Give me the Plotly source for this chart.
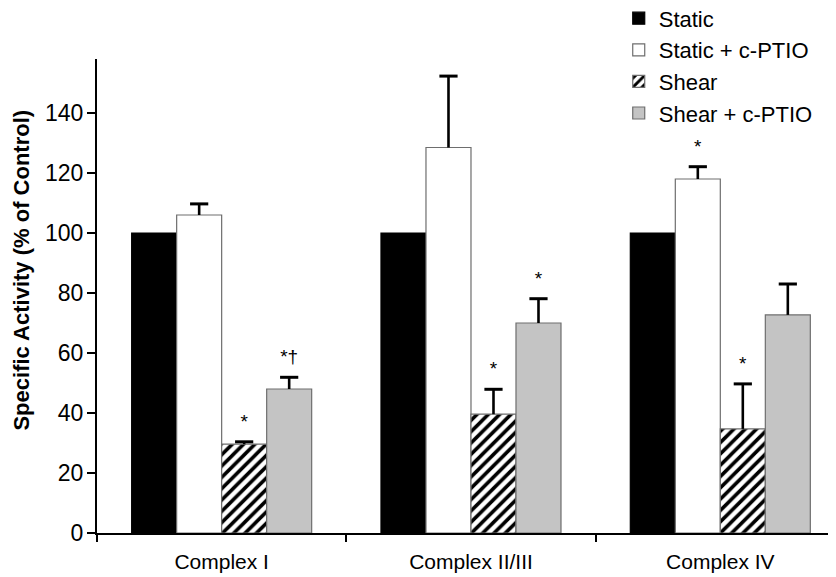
import plotly.graph_objects as go

categories = ["Complex I", "Complex II/III", "Complex IV"]
series_names = ["Static", "Static + c-PTIO", "Shear", "Shear + c-PTIO"]

static_vals = [100, 100, 100]
static_ptio_vals = [106, 128.5, 118]
shear_vals = [29.6, 39.6, 34.7]
shear_ptio_vals = [48, 70, 72.7]

static_err = [0, 0, 0]
static_ptio_err = [3.7, 23.8, 4.1]
shear_err = [0.8, 8.3, 15.0]
shear_ptio_err = [3.9, 8.1, 10.3]

static_marks = ["", "", ""]
static_ptio_marks = ["", "", "*"]
shear_marks = ["*", "*", "*"]
shear_ptio_marks = ["*†", "*", ""]

y_ticks = [0, 20, 40, 60, 80, 100, 120, 140]
y_title = "Specific Activity (% of Control)"

values = [static_vals, static_ptio_vals, shear_vals, shear_ptio_vals]
errors = [static_err, static_ptio_err, shear_err, shear_ptio_err]
marks = [static_marks, static_ptio_marks, shear_marks, shear_ptio_marks]

fills = ["#000000", "#ffffff", "#ffffff", "#c4c4c4"]
outlines = ["#000000", "#6e6e6e", "#6e6e6e", "#6e6e6e"]

fig = go.Figure()
for i, name in enumerate(series_names):
    marker = dict(color=fills[i], line=dict(color=outlines[i], width=1.2))
    if name == "Shear":
        marker["pattern"] = dict(shape="/", fgcolor="#000000", bgcolor="#ffffff",
                                 size=8, solidity=0.45, fgopacity=1)
    fig.add_trace(go.Bar(name=name, x=categories, y=values[i], marker=marker,
                         offsetgroup=str(i)))

for i, name in enumerate(series_names):
    xs, ys, es, ts = [], [], [], []
    for j, c in enumerate(categories):
        if errors[i][j] > 0:
            xs.append(c)
            ys.append(values[i][j] + errors[i][j])
            es.append(errors[i][j])
            ts.append(marks[i][j])
    if not xs:
        continue
    fig.add_trace(go.Scatter(
        x=xs, y=ys, mode="markers+text", text=ts, textposition="top center",
        textfont=dict(family="Liberation Sans, Arial", size=19, color="#000"),
        marker=dict(symbol="line-ew", size=13, color="#000",
                    line=dict(color="#000", width=3)),
        error_y=dict(type="data", array=[0] * len(es), arrayminus=es,
                     width=0, thickness=2.6, color="#000"),
        offsetgroup=str(i), showlegend=False, hoverinfo="skip", cliponaxis=False))

fig.add_annotation(text="<b>" + y_title + "</b>", textangle=-90,
                   xref="paper", yref="paper", x=-0.102, y=0.555,
                   xanchor="center", yanchor="middle", showarrow=False,
                   font=dict(size=22, color="#000"))

fig.update_layout(
    width=828, height=569,
    margin=dict(l=89, r=0, t=51, b=44, autoexpand=False),
    paper_bgcolor="white", plot_bgcolor="white",
    barmode="group", bargap=0.278, bargroupgap=0,
    scattermode="group", scattergap=0.278,
    font=dict(family="Liberation Sans, Arial", size=21, color="#000"),
    showlegend=True,
    legend=dict(x=0.706, y=1.13, xanchor="left", yanchor="top",
                font=dict(size=22), bgcolor="rgba(0,0,0,0)",
                itemwidth=30, tracegroupgap=0),
    xaxis=dict(type="category", range=[-0.5, 2.464], showline=True,
               linecolor="#000", linewidth=2, ticks="outside",
               tickson="boundaries", ticklen=7, tickcolor="#000", tickwidth=1.5,
               showgrid=False, tickfont=dict(size=21), ticklabelstandoff=9),
    yaxis=dict(range=[0, 158], tickvals=y_ticks, showline=True,
               linecolor="#000", linewidth=2, ticks="outside", ticklen=8,
               tickcolor="#000", tickwidth=1.5, showgrid=False, zeroline=False,
               tickfont=dict(size=23), ticklabelstandoff=-1),
)

fig.write_html("out.html")
